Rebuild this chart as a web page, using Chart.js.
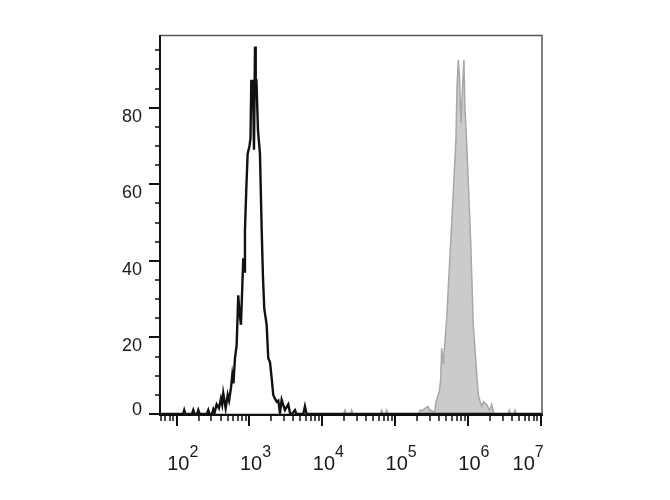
<!DOCTYPE html>
<html>
<head>
<meta charset="utf-8">
<script src="https://cdn.jsdelivr.net/npm/chart.js@4.4.1/dist/chart.umd.min.js"></script>
<style>
  html, body { margin: 0; padding: 0; background: #ffffff; }
  canvas { display: block; }
</style>
</head>
<body>
<canvas id="c" width="670" height="500"></canvas>
<script>
// ---- data (x = log10 of fluorescence intensity, y = count) ----
const blackX = [1.771,2.09,2.104,2.12,2.21,2.228,2.245,2.28,2.297,2.315,2.415,2.434,2.45,2.485,2.503,2.52,2.549,2.581,2.608,2.625,2.640,2.673,2.701,2.72,2.746,2.764,2.78,2.801,2.824,2.846,2.86,2.883,2.915,2.929,2.938,2.955,2.975,3.000,3.014,3.025,3.048,3.062,3.076,3.086,3.096,3.117,3.144,3.168,3.185,3.203,3.236,3.258,3.282,3.305,3.327,3.350,3.374,3.396,3.419,3.442,3.487,3.533,3.56,3.584,3.625,3.645,3.74,3.762,3.785,7.032];
const blackY = [0,0,1,0,0,1,0,0,1,0,0,1,0,0,1.2,0.3,2.5,1.5,4,2.5,5.4,1.5,5,3.5,6.8,10.2,8,14.6,18,31,27,23.3,40.7,37.2,48,58,68,70,72,87,87,69,96,88,87,74,68,48,36,27.6,23.3,14.6,13.5,9.4,5,4,3.2,3.5,0.3,3.7,1,2.5,0,0,1,0,0,2,0,0];

const grayX = [1.771,4.29,4.312,4.33,4.385,4.404,4.42,4.80,4.816,4.835,4.865,4.885,4.90,5.325,5.342,5.38,5.411,5.456,5.475,5.493,5.53,5.548,5.562,5.593,5.607,5.626,5.640,5.662,5.709,5.777,5.836,5.850,5.868,5.885,5.905,5.926,5.946,5.960,5.984,6.038,6.074,6.121,6.143,6.166,6.190,6.212,6.258,6.294,6.327,6.358,6.55,6.569,6.59,6.63,6.647,6.665,7.032];
const grayY = [0,0,1,0,0,1,0,0,1,0,0,1,0,0,1,1,1.5,2,0.8,1,0.5,1,3.2,5,5.8,8.9,17.2,13,25,49.4,71.6,85,92.5,88,76,85,92.5,80,70.8,45.5,23.3,10.6,5,3.5,1.9,3.2,2.5,1,2.5,0,0,1,0,0,1,0,0];

// ---- tick values / labels ----
const xMajorExp = [2,3,4,5,6,7];
const xLabelBase = '10';
const xMinorMult = [2,3,4,5,6,7,8,9];
const yMajor = [0,20,40,60,80];
const yMajorLabels = ['0','20','40','60','80'];
const yMinor = [5,10,15,25,30,35,45,50,55,65,70,75,85,90,95];

const X_MIN = 1.771, X_MAX = 7.032, Y_MIN = 0, Y_MAX = 99;

const toPts = (xs, ys) => xs.map((v, i) => ({ x: v, y: ys[i] }));

const FONT = '"Liberation Sans", Arial, Helvetica, sans-serif';

const axisPlugin = {
  id: 'cytoAxes',
  afterDatasetsDraw(chart) {
    const { ctx, chartArea: a, scales: { x, y } } = chart;
    ctx.save();
    // frame (top / right)
    ctx.strokeStyle = '#555';
    ctx.lineWidth = 1.5;
    ctx.beginPath();
    ctx.moveTo(a.left, a.top + 0.5);
    ctx.lineTo(a.right - 1, a.top + 0.5);
    ctx.lineTo(a.right - 1, a.bottom + 1);
    ctx.stroke();

    const y0 = y.getPixelForValue(0);
    const axisY = y0 + 1;
    // main axes
    ctx.strokeStyle = '#111';
    ctx.lineWidth = 2;
    ctx.beginPath();
    ctx.moveTo(a.left, a.top);
    ctx.lineTo(a.left, axisY + 1);
    ctx.moveTo(a.left - 1, axisY);
    ctx.lineTo(a.right, axisY);
    ctx.stroke();

    // y ticks
    ctx.lineWidth = 2;
    ctx.beginPath();
    yMajor.forEach(v => {
      const p = Math.round(y.getPixelForValue(v));
      ctx.moveTo(a.left - 11, p);
      ctx.lineTo(a.left, p);
    });
    ctx.stroke();
    ctx.lineWidth = 1.5;
    ctx.beginPath();
    yMinor.forEach(v => {
      const p = Math.round(y.getPixelForValue(v));
      ctx.moveTo(a.left - 5, p);
      ctx.lineTo(a.left, p);
    });
    ctx.stroke();

    // x ticks
    ctx.lineWidth = 2;
    ctx.beginPath();
    xMajorExp.forEach(e => {
      const p = Math.round(x.getPixelForValue(e));
      ctx.moveTo(p, axisY);
      ctx.lineTo(p, axisY + 11);
    });
    ctx.stroke();
    ctx.lineWidth = 1.5;
    ctx.beginPath();
    for (let n = 1; n <= 7; n++) {
      xMinorMult.forEach(k => {
        const v = n + Math.log10(k);
        if (v < X_MIN || v > X_MAX) return;
        const p = Math.round(x.getPixelForValue(v));
        ctx.moveTo(p, axisY);
        ctx.lineTo(p, axisY + 6);
      });
    }
    ctx.stroke();

    // y labels
    ctx.fillStyle = '#1a1a1a';
    ctx.font = '18px ' + FONT;
    ctx.textAlign = 'right';
    ctx.textBaseline = 'alphabetic';
    yMajor.forEach((v, i) => {
      const p = y.getPixelForValue(v);
      const base = v === 0 ? p + 1 : p + 14;
      ctx.fillText(yMajorLabels[i], 142, base);
    });

    // x labels: 10 with superscript exponent
    xMajorExp.forEach((e, i) => {
      const p = x.getPixelForValue(e);
      ctx.font = '20px ' + FONT;
      const wBase = ctx.measureText(xLabelBase).width;
      ctx.font = '16px ' + FONT;
      const wExp = ctx.measureText(String(e)).width;
      let start = p - 9.5;
      if (i === xMajorExp.length - 1) start = p + 3 - wBase - wExp;
      ctx.textAlign = 'left';
      ctx.font = '20px ' + FONT;
      ctx.fillText(xLabelBase, start, 470);
      ctx.font = '16px ' + FONT;
      ctx.fillText(String(e), start + wBase, 457);
    });
    ctx.restore();
  }
};

new Chart(document.getElementById('c'), {
  type: 'line',
  data: {
    datasets: [
      {
        label: 'control',
        data: toPts(blackX, blackY),
        borderColor: '#111111',
        borderWidth: 2.4,
        fill: false,
        pointRadius: 0,
        tension: 0,
        order: 0
      },
      {
        label: 'stained',
        data: toPts(grayX, grayY),
        borderColor: '#a8a8a8',
        backgroundColor: '#cbcbcb',
        borderWidth: 1.5,
        fill: 'origin',
        pointRadius: 0,
        tension: 0,
        order: 1
      }
    ]
  },
  options: {
    responsive: false,
    devicePixelRatio: 1,
    animation: false,
    layout: { padding: { left: 0, right: 127, top: 35, bottom: 0 } },
    plugins: { legend: { display: false }, tooltip: { enabled: false } },
    scales: {
      x: {
        type: 'linear', min: X_MIN, max: X_MAX,
        grid: { display: false }, border: { display: false },
        ticks: { display: false },
        afterFit(s) { s.height = 86; }
      },
      y: {
        type: 'linear', min: Y_MIN, max: Y_MAX,
        grid: { display: false }, border: { display: false },
        ticks: { display: false },
        afterFit(s) { s.height = s.height; s.width = 160; }
      }
    }
  },
  plugins: [axisPlugin]
});
</script>
</body>
</html>
